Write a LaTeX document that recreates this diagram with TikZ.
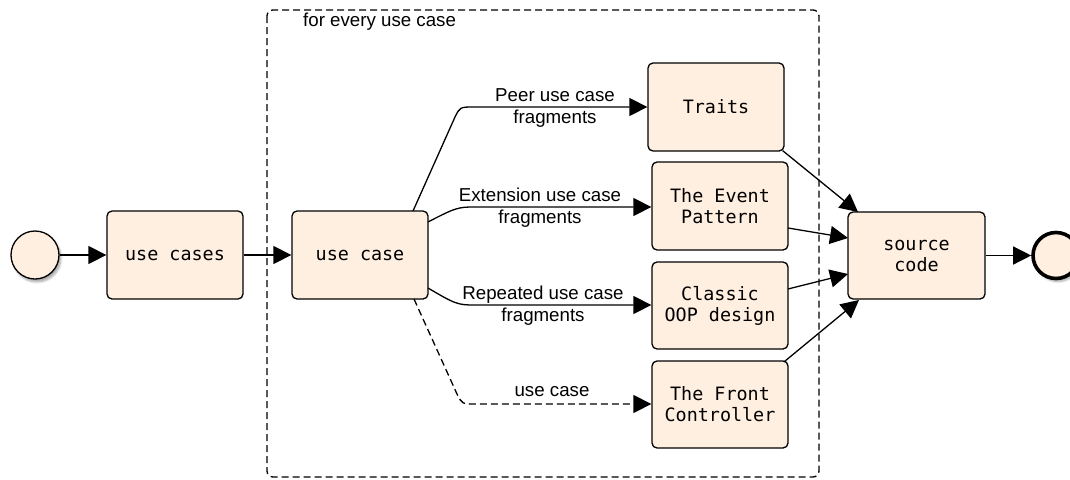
\documentclass[tikz,border=0pt]{standalone}
\usepackage{fontspec}
\setmainfont{Liberation Sans}
\newfontfamily\boxmono{DejaVu Sans Mono}
\usetikzlibrary{arrows.meta,shadows.blur}
\definecolor{boxfill}{RGB}{255,239,224}
\tikzset{
  task/.style={draw=black, line width=1.3pt, rounded corners=5pt, fill=boxfill,
    minimum width=136pt, minimum height=88pt, inner sep=2pt, align=center,
    font=\boxmono\fontsize{18.4}{21}\selectfont},
  evstart/.style={circle, draw=black, line width=1.3pt, fill=boxfill, minimum size=48pt, inner sep=0pt,
    blur shadow={shadow xshift=2pt, shadow yshift=-3pt, shadow blur steps=6, shadow opacity=35}},
  evend/.style={circle, draw=black, line width=3.6pt, fill=boxfill, minimum size=46pt, inner sep=0pt,
    blur shadow={shadow xshift=2pt, shadow yshift=-3pt, shadow blur steps=6, shadow opacity=35}},
  flow/.style={line width=1.3pt, -{Triangle[length=18pt, width=18pt]}},
  elabel/.style={align=center, font=\fontsize{18.7}{22}\selectfont, inner sep=0pt},
  frame/.style={draw=black, line width=1.3pt, rounded corners=6pt, dash pattern=on 7pt off 4pt}
}
\begin{document}
\begin{tikzpicture}[x=1pt,y=-1pt]
\useasboundingbox (0,0) rectangle (1070,479);
\draw[frame] (267,10) rectangle (819,477);
\node[anchor=base west, font=\fontsize{18.7}{22}\selectfont, inner sep=0pt] (title) at (303,26) {for every use case};

\node[evstart] (start) at (35,255) {};
\node[task] (ucs) at (175,255) {use cases};
\node[task] (uc) at (360,255) {use case};
\node[task] (traits) at (716,107) {Traits};
\node[task] (event) at (720,206) {The Event\\Pattern};
\node[task, minimum height=87pt] (classic) at (720,305.5) {Classic\\OOP design};
\node[task, minimum height=87pt] (front) at (720,404.5) {The Front\\Controller};
\node[task, minimum width=137pt, minimum height=87pt] (src) at (916.5,255.5) {source\\code};
\node[evend] (end) at (1056,255.5) {};

\coordinate (a1) at (413,211);
\coordinate (a2) at (428,222);
\coordinate (a3) at (428,288);
\coordinate (a4) at (414,299);

\draw[flow] (start) -- (ucs);
\draw[flow] (ucs) -- (uc);
\draw[flow] (a1) -- (455,117) .. controls (460,107) .. (474,107) -- (traits.west);
\draw[flow] (a2) .. controls (455,208) and (458,207) .. (474,207) -- (event.west |- 0,207);
\draw[flow] (a3) .. controls (455,304) and (458,305) .. (474,305) -- (classic.west |- 0,305);
\draw[flow, dash pattern=on 7pt off 4pt] (a4) -- (457,394) .. controls (462,404) .. (476,404) -- (front.west |- 0,404);

\node[elabel] (l1) at (555,108) {Peer use case\\fragments};
\node[elabel] (l2) at (540,208) {Extension use case\\fragments};
\node[elabel] (l3) at (543,306) {Repeated use case\\fragments};
\node[elabel, anchor=base] (l4) at (552,396) {use case};

\draw[flow] (traits.south east) ++(-2,-1) coordinate (t1) -- (858,212) coordinate (t2);
\draw[flow] (788,228) coordinate (e1) -- (848,238) coordinate (e2);
\draw[flow] (788,289) coordinate (c1) -- (848,274) coordinate (c2);
\draw[flow] (front.north east) ++(-4,1) coordinate (f1) -- (859,300) coordinate (f2);
\draw[flow] (src) -- (end);
\end{tikzpicture}
\end{document}
